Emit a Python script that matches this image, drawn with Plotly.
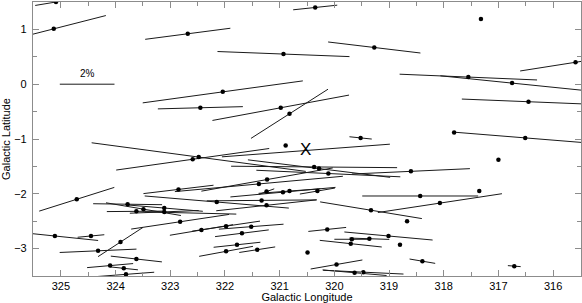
import numpy as np
import plotly.graph_objects as go

# Star positions (galactic longitude / latitude, deg), polarization (%), angle (deg, as drawn from the plane)
lon = [325.09, 325.13, 322.68, 322.04, 322.45, 322.48, 322.59, 320.35, 317.32, 320.93,
       319.27, 315.59, 317.55, 316.75, 316.45, 316.51, 317.81, 319.52, 320.98, 320.82,
       320.89, 320.52, 324.71, 322.85, 323.78, 323.62, 323.49, 323.11, 323.11, 322.63,
       323.91, 322.82, 325.11, 324.45, 324.32, 323.62, 324.10, 323.85, 323.81, 322.43,
       321.98, 321.69, 321.52, 321.78, 321.98, 321.41, 320.49, 320.13, 319.01, 319.68,
       319.36, 319.70, 319.96, 319.63, 319.47, 318.60, 317.00, 317.35, 318.43, 318.07,
       319.33, 318.67, 318.80, 318.39, 316.71, 320.37, 320.28, 320.11, 321.38, 321.23,
       321.24, 320.94, 320.82, 320.31, 322.15, 321.33, 321.24]
lat = [1.50, 1.01, 0.92, -0.14, -0.43, -1.33, -1.37, 1.40, 1.19, 0.55,
       0.67, 0.40, 0.13, 0.02, -0.32, -0.98, -0.88, -0.98, -0.43, -0.54,
       -1.12, -1.21, -2.10, -1.92, -2.19, -2.32, -2.28, -2.26, -2.33, -2.35,
       -2.88, -2.51, -2.77, -2.77, -3.04, -3.19, -3.31, -3.36, -3.47, -2.66,
       -2.59, -2.72, -2.60, -2.93, -3.05, -3.02, -3.07, -2.65, -2.77, -2.83,
       -2.82, -2.91, -3.29, -3.44, -3.43, -1.59, -1.38, -1.95, -2.04, -2.17,
       -2.30, -2.50, -2.93, -3.23, -3.32, -1.51, -1.54, -1.63, -1.82, -1.74,
       -1.96, -1.97, -1.95, -1.95, -2.15, -2.12, -2.21]
pol = [1.54, 3.93, 3.14, 5.91, 3.11, 7.90, 5.65, 1.62, 0.0, 4.83,
       3.40, 4.10, 5.03, 5.27, 4.88, 5.24, 0.0, 0.82, 5.08, 3.34,
       0.0, 6.16, 2.88, 2.58, 2.52, 2.16, 2.78, 2.83, 2.52, 3.35,
       1.96, 3.62, 3.18, 0.98, 2.81, 1.88, 1.69, 1.04, 2.07, 2.34,
       2.51, 1.98, 2.37, 1.72, 2.00, 1.33, 0.0, 1.39, 3.24, 1.28,
       1.46, 2.28, 1.92, 2.35, 2.94, 4.32, 0.0, 0.0, 4.24, 4.59,
       3.77, 0.0, 0.0, 0.95, 0.47, 6.07, 5.24, 5.27, 6.17, 4.88,
       0.60, 3.86, 2.27, 1.30, 5.29, 4.01, 3.70]
angle = [9.4, 14.3, 7.4, 7.8, 1.5, -7.6, 8.0, 6.0, 0.0, -2.2,
         -6.8, 8.9, -2.4, -5.8, -2.3, -4.6, 0.0, -5.9, 10.5, 32.5,
         0.0, 4.3, 17.5, 6.8, -0.8, 0.5, -9.6, -4.8, 2.2, -1.4,
         33.0, 8.5, -5.9, 5.4, 2.5, -6.4, 5.0, -6.0, 4.3, 9.5,
         8.4, 7.1, 4.4, 6.1, 10.5, 8.8, 0.0, 6.0, -5.2, 0.0,
         -1.9, -6.1, 9.9, -5.0, -2.7, 2.6, 0.0, 0.0, 0.0, 8.6,
         -9.3, 0.0, 0.0, -9.6, -4.5, -0.5, -7.0, -2.6, 5.2, 10.0,
         20.0, 5.2, 4.2, 9.7, -4.8, 0.5, 6.2]
has_dot = [1] * len(lon)
has_dot[21] = 0   # star under the "X" marker
has_dot[29] = 0

# Scale bar: 2 % polarization
scale_pol = 2.0
scale_lon = 324.52
scale_lat = 0.0
# Marker "X"
x_lon, x_lat = 320.52, -1.20

DEG_PER_PCT = 0.5  # full vector length in degrees per 1 % polarization

xs, ys = [], []
for lo, la, p, a in zip(lon, lat, pol, angle):
    if p <= 0:
        continue
    h = p * DEG_PER_PCT / 2.0
    t = np.radians(a)
    xs += [lo - h * np.cos(t), lo + h * np.cos(t), None]
    ys += [la + h * np.sin(t), la - h * np.sin(t), None]

hs = scale_pol * DEG_PER_PCT / 2.0
xs += [scale_lon + hs, scale_lon - hs, None]
ys += [scale_lat, scale_lat, None]

fig = go.Figure()
fig.add_trace(go.Scatter(x=xs, y=ys, mode="lines",
                         line=dict(color="#1a1a1a", width=1),
                         hoverinfo="skip", showlegend=False))
dx = [lo for lo, d in zip(lon, has_dot) if d]
dy = [la for la, d in zip(lat, has_dot) if d]
fig.add_trace(go.Scatter(x=dx, y=dy, mode="markers",
                         marker=dict(color="black", size=4.5, line=dict(width=0)),
                         showlegend=False))

fig.add_annotation(x=scale_lon, y=scale_lat + 0.2, text="2%", showarrow=False,
                   font=dict(size=10, color="black", family="Liberation Sans"))
fig.add_annotation(x=x_lon, y=x_lat, text="X", showarrow=False,
                   font=dict(size=17, color="black", family="Liberation Sans"))

axis_common = dict(showgrid=False, zeroline=False, showline=True, linecolor="#8c8c8c",
                   linewidth=1.2, mirror="allticks", ticks="inside", ticklen=6,
                   tickcolor="#8c8c8c", tickwidth=1, automargin=False,
                   tickfont=dict(size=11, color="black", family="Liberation Sans"))

fig.update_xaxes(range=[325.51, 315.49], tickvals=list(range(316, 326)),
                 minor=dict(dtick=0.5, ticks="inside", ticklen=4, tickcolor="#8c8c8c"),
                 title=dict(text="Galactic Longitude", standoff=2,
                            font=dict(size=11, color="black", family="Liberation Sans")),
                 **axis_common)
fig.update_yaxes(range=[-3.5, 1.5], tickvals=[-3, -2, -1, 0, 1],
                 minor=dict(dtick=0.5, ticks="inside", ticklen=4, tickcolor="#8c8c8c"),
                 title=dict(text="Galactic Latitude", standoff=2,
                            font=dict(size=11, color="black", family="Liberation Sans")),
                 ticklabelstandoff=3,
                 **axis_common)

fig.update_layout(width=582, height=303, margin=dict(l=33, r=1, t=2, b=27, autoexpand=False),
                  plot_bgcolor="white", paper_bgcolor="white")

fig.write_html("out.html", config={"displayModeBar": False},
               post_script="document.body.style.margin='0';")
